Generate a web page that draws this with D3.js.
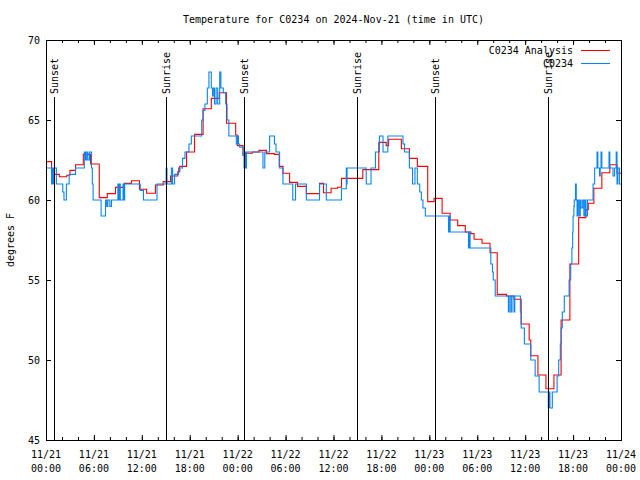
<!DOCTYPE html>
<html><head><meta charset="utf-8">
<script src="https://cdn.jsdelivr.net/npm/d3@7"></script>
<style>
body{margin:0;background:#fff}
text{font-family:"DejaVu Sans Mono",monospace;font-size:10px;fill:#000}
</style>
</head><body><svg id="c" width="640" height="480"></svg>
<script>
const title = "Temperature for C0234 on 2024-Nov-21 (time in UTC)";
const yLabel = "degrees F";
const seriesNames = ["C0234 Analysis", "C0234"];
const seriesColors = ["#ff0000", "#0a84f0"];
const startTime = Date.UTC(2024, 10, 21, 0, 0);
const xTickHours = [0, 6, 12, 18, 24, 30, 36, 42, 48, 54, 60, 66, 72];
const xTickDates = ["11/21","11/21","11/21","11/21","11/22","11/22","11/22","11/22","11/23","11/23","11/23","11/23","11/24"];
const xTickTimes = ["00:00","06:00","12:00","18:00","00:00","06:00","12:00","18:00","00:00","06:00","12:00","18:00","00:00"];
const yTicks = [45, 50, 55, 60, 65, 70];
const eventNames = ["Sunset","Sunrise","Sunset","Sunrise","Sunset","Sunrise"];
const eventHours = [1.0, 15.0, 24.85, 38.88, 48.75, 62.88];

// Analysis (red): hours since 11/21 00:00 UTC, temperature F
const redHours = [0,0.7,1.67,2.6,3.0,3.7,4.67,5.58,6.67,7.67,8.7,9.8,10.7,11.7,12.6,13.7,14.67,15.6,16.5,16.75,17.6,18.6,19.67,20.7,21.7,22.6,23.75,23.95,24.67,25.1,25.83,26.67,27.6,28.6,29.2,29.67,30.5,31.5,32.6,34.25,34.75,35.7,36.5,37.0,39.67,41.67,42.6,42.9,44.5,45.5,46.5,47.8,48.6,49.6,50.6,51.55,52.5,53.2,53.6,54.6,55.6,56.5,57.67,58.6,59.5,60.5,60.7,61.6,62.6,63.6,64.5,65.6,66.7,67.6,67.9,68.6,69.6,70.6,71.5];
const redTemps = [62.4,61.6,61.45,61.55,61.85,62.2,62.85,62.25,60.15,60.4,60.79,61.04,61.2,60.67,60.42,60.94,61.15,61.5,61.77,62.1,63.0,64.1,65.7,66.35,66.7,64.8,64.06,63.4,62.8,62.92,63.0,63.1,62.9,62.85,62.1,61.67,61.1,60.85,60.4,61.04,60.45,60.73,60.8,61.35,61.9,63.6,63.4,63.8,63.2,62.6,62.1,59.9,60.1,59.17,58.75,58.4,58.0,57.9,57.55,57.3,56.7,54.1,54.0,53.8,52.25,51.25,50.27,49.06,48.2,49.06,52.5,56.0,58.9,59.4,59.8,60.73,61.7,62.2,61.67];

// Observations (blue)
const blueHours = [0,0.7,0.75,0.85,0.95,1.3,2.1,2.25,2.55,2.9,3.7,4.8,4.95,5.1,5.25,5.45,5.7,5.8,5.9,6.9,7.45,7.6,7.75,8.0,8.2,9.0,9.1,9.2,9.3,9.65,9.75,9.85,11.8,12.2,13.9,15.05,15.15,15.7,15.85,16.1,16.6,17.1,17.4,17.9,18.2,19.5,19.67,19.9,20.2,20.4,20.7,20.85,21.0,21.1,21.3,21.5,21.75,21.9,22.2,22.5,22.67,22.9,23.83,24.0,24.1,24.25,24.67,24.8,24.9,25.0,25.1,27.17,27.4,28.0,28.6,28.8,29.25,29.67,30.9,31.25,32.6,34.25,35.1,37.0,37.6,37.65,37.7,40.1,40.7,41.25,41.75,42.2,42.8,44.7,44.9,45.5,45.9,46.2,46.5,46.8,47.0,47.2,47.5,50.4,50.5,50.6,52.9,53.0,53.1,55.7,55.9,56.0,56.25,57.9,58.0,58.2,58.35,58.6,58.7,59.4,59.5,59.9,60.7,61.25,61.75,62.9,63.0,63.1,63.4,64.0,64.2,64.4,64.5,64.65,64.9,65.5,65.7,65.85,65.95,66.0,66.1,66.15,66.3,66.4,66.5,66.6,66.75,66.9,67.0,67.2,67.35,67.5,67.6,67.8,68.5,68.7,69.0,69.1,69.3,69.4,69.5,69.6,70.5,70.6,71.0,71.2,71.4,71.5,71.6,71.8];
const blueTemps = [62,61,62,61,62,61,60.5,60,61,61.6,62,63,62.5,63,62.5,63,62,61,60,59,60,59.6,60,59.6,60,61,60,61,60,61,60,61,60.6,60,61,62,61,62,61,61.6,62,62.6,63,63.5,64,65,65.6,66,67,68,67,66.5,67,66,67,66,68,67,66.7,66,65,64,63.5,64,63.5,63.3,62.8,62,63,62,63,62,63,64,63.5,63,62,61,60,61,60,61,60,60.7,62,61,62,61,62,63,64,63,64,63.5,63,62,61,62,61,60.5,60,59.5,59,58,59,58,57,58,57,56,55.5,55,54,53,54,53,54,53,54,53,52,51,50,49,48,47,48,47,48,49,50,51,52,53,54,55,56,57,58,59,59.6,60,61,60,59,60,59,60,59.5,60,59,60,59,60,61,62,63,62,61.5,62,63,62,63,62,61.5,62,63,61,62,61];

const svg = d3.select("#c");
const hourToDate = h => new Date(startTime + h * 3600e3);
const L = 46, R = 621, T = 40, B = 440;
const x = d3.scaleUtc().domain([hourToDate(0), hourToDate(72)]).range([L, R]);
const y = d3.scaleLinear().domain([45, 70]).range([B, T]);

// title
svg.append("text").attr("x", (L + R) / 2).attr("y", 23).attr("text-anchor", "middle").text(title);
// y label
svg.append("text").attr("transform", `translate(14,${(T + B) / 2}) rotate(-90)`).attr("text-anchor", "middle").text(yLabel);

// data lines
function series(hours, temps) {
  const pts = hours.map((h, i) => [hourToDate(h), temps[i]]);
  pts.push([hourToDate(72), temps[temps.length - 1]]);
  return pts;
}
const line = d3.line().x(d => x(d[0])).y(d => y(d[1])).curve(d3.curveStepAfter);
const plot = svg.append("g");
plot.append("path").datum(series(redHours, redTemps)).attr("d", line)
  .attr("fill", "none").attr("stroke", seriesColors[0]).attr("stroke-width", 1.1);
plot.append("path").datum(series(blueHours, blueTemps)).attr("d", line)
  .attr("fill", "none").attr("stroke", seriesColors[1]).attr("stroke-width", 1.1);

// event lines
eventHours.forEach((h, i) => {
  const ex = Math.round(x(hourToDate(h))) + 0.5;
  svg.append("line").attr("x1", ex).attr("x2", ex).attr("y1", 97).attr("y2", B)
    .attr("stroke", "#000").attr("stroke-width", 1);
  svg.append("text").attr("transform", `translate(${ex + 3},94) rotate(-90)`)
    .attr("text-anchor", "start").text(eventNames[i]);
});

// axes (ticks inward, mirrored)
function noDomain(g) { g.select(".domain").remove(); g.selectAll("text").remove(); g.selectAll("line").attr("stroke", "#000"); }
const majorX = xTickHours.map(hourToDate);
const minorX = d3.range(0, 73, 2).map(hourToDate);
svg.append("g").attr("transform", `translate(0,${B})`).call(d3.axisBottom(x).tickValues(minorX).tickSize(-3)).call(noDomain);
svg.append("g").attr("transform", `translate(0,${B})`).call(d3.axisBottom(x).tickValues(majorX).tickSize(-5)).call(noDomain);
svg.append("g").attr("transform", `translate(0,${T})`).call(d3.axisTop(x).tickValues(minorX).tickSize(-3)).call(noDomain);
svg.append("g").attr("transform", `translate(0,${T})`).call(d3.axisTop(x).tickValues(majorX).tickSize(-5)).call(noDomain);
svg.append("g").attr("transform", `translate(${L},0)`).call(d3.axisLeft(y).tickValues(yTicks).tickSize(-5)).call(noDomain);
svg.append("g").attr("transform", `translate(${R},0)`).call(d3.axisRight(y).tickValues(yTicks).tickSize(-5)).call(noDomain);

// frame
svg.append("rect").attr("x", L + 0.5).attr("y", T + 0.5).attr("width", R - L).attr("height", B - T)
  .attr("fill", "none").attr("stroke", "#000").attr("stroke-width", 1);

// tick labels
yTicks.forEach(v => {
  svg.append("text").attr("x", 40).attr("y", y(v) + 4).attr("text-anchor", "end").text(v);
});
xTickHours.forEach((h, i) => {
  const tx = x(hourToDate(h));
  svg.append("text").attr("x", tx).attr("y", 458).attr("text-anchor", "middle").text(xTickDates[i]);
  svg.append("text").attr("x", tx).attr("y", 472).attr("text-anchor", "middle").text(xTickTimes[i]);
});

// legend
seriesNames.forEach((n, i) => {
  const ly = 50 + i * 13;
  svg.append("text").attr("x", 573).attr("y", ly + 4).attr("text-anchor", "end").text(n);
  svg.append("line").attr("x1", 581).attr("x2", 610).attr("y1", ly + 0.5).attr("y2", ly + 0.5)
    .attr("stroke", seriesColors[i]).attr("stroke-width", 1.1);
});
</script>
</body></html>
